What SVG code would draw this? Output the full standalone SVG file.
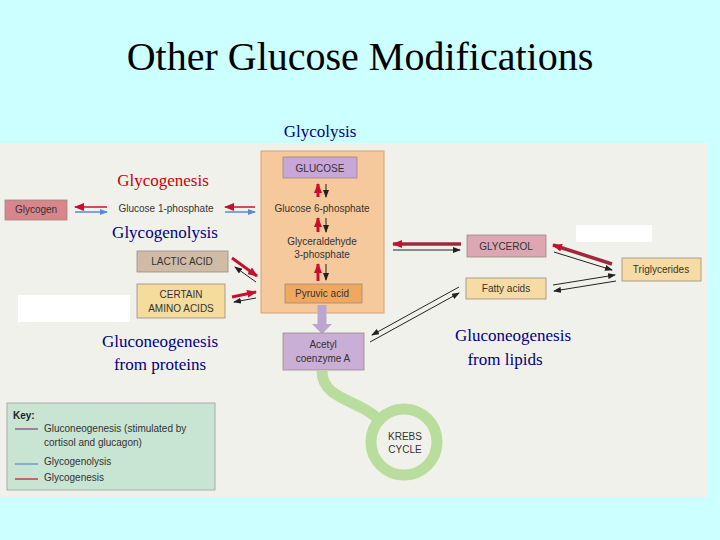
<svg xmlns="http://www.w3.org/2000/svg" width="720" height="540" viewBox="0 0 720 540">
<style>
.lbl{font-family:"Liberation Serif",serif;font-size:17px;text-anchor:middle}
.s{font-family:"Liberation Sans",sans-serif;font-size:10px;fill:#333;text-anchor:middle}
.bx{stroke:#9a8a80;stroke-width:0.8}
.thin{stroke:#222;stroke-width:1;fill:none}
.red{stroke:#c8102e;stroke-width:3;fill:none}
</style>
<defs>
<marker id="ah" markerWidth="8" markerHeight="6" refX="7" refY="3" orient="auto" markerUnits="userSpaceOnUse"><path d="M0,0 L8,3 L0,6 z" fill="#222"/></marker>
<marker id="rh" markerWidth="10" markerHeight="8" refX="9" refY="4" orient="auto" markerUnits="userSpaceOnUse"><path d="M0,0 L10,4 L0,8 z" fill="#c8102e"/></marker>
<marker id="bh" markerWidth="8" markerHeight="6" refX="7" refY="3" orient="auto" markerUnits="userSpaceOnUse"><path d="M0,0 L8,3 L0,6 z" fill="#5a8ad0"/></marker>
</defs>
<rect width="720" height="540" fill="#ccffff"/>
<rect x="0" y="143" width="708" height="354" fill="#f1f1ec"/>
<rect x="18" y="295" width="112" height="27" fill="#fff"/>
<rect x="576" y="225" width="76" height="17" fill="#fff"/>
<text x="360" y="70" font-family="Liberation Serif,serif" font-size="40" text-anchor="middle">Other Glucose Modifications</text>
<text class="lbl" x="320" y="137" fill="#000080">Glycolysis</text>
<g id="pathway"><rect x="261" y="151" width="123" height="162" fill="#f6c99c" stroke="#d8a070"/></g>
<g id="connectors">
<path d="M318,197 L318,184" class="red" marker-end="url(#rh)"/>
<path d="M318,232 L318,218" class="red" marker-end="url(#rh)"/>
<path d="M318,281 L318,264" class="red" marker-end="url(#rh)"/>
<path d="M326,184 L326,197" class="thin" marker-end="url(#ah)"/>
<path d="M326,218 L326,232" class="thin" marker-end="url(#ah)"/>
<path d="M326,264 L326,280" class="thin" marker-end="url(#ah)"/>
<path d="M107,207 L75,207" stroke="#c8102e" stroke-width="1.5" marker-end="url(#rh)"/>
<path d="M75,212 L107,212" stroke="#5a8ad0" stroke-width="1.5" marker-end="url(#bh)"/>
<path d="M255,207 L225,207" stroke="#c8102e" stroke-width="1.5" marker-end="url(#rh)"/>
<path d="M225,212 L255,212" stroke="#5a8ad0" stroke-width="1.5" marker-end="url(#bh)"/>
<path d="M232,258 L257,276" class="red" marker-end="url(#rh)"/>
<path d="M256,282 L235,267" class="thin" marker-end="url(#ah)"/>
<path d="M232,297 L256,292" class="red" marker-end="url(#rh)"/>
<path d="M256,298 L234,302" class="thin" marker-end="url(#ah)"/>
<path d="M461,244 L393,244" stroke="#a0283c" stroke-width="3.5" marker-end="url(#rh)"/>
<path d="M393,250 L460,250" class="thin" marker-end="url(#ah)"/>
<path d="M612,264 L553,245" stroke="#a0283c" stroke-width="3.5" marker-end="url(#rh)"/>
<path d="M554,252 L612,270" class="thin" marker-end="url(#ah)"/>
<path d="M553,285 L615,275" class="thin" marker-end="url(#ah)"/>
<path d="M616,281 L554,291" class="thin" marker-end="url(#ah)"/>
<path d="M459,287 L372,335" class="thin" marker-end="url(#ah)"/>
<path d="M370,342 L459,293" class="thin" marker-end="url(#ah)"/>
<path d="M322,305 L322,326" stroke="#bba6d0" stroke-width="9"/>
<path d="M312,324 L332,324 L322,334 z" fill="#bba6d0"/>
<path d="M322,371 C322,400 360,400 377,418" stroke="#b9dd9c" stroke-width="11" fill="none"/>
<circle cx="404" cy="442" r="33" fill="none" stroke="#b9dd9c" stroke-width="11"/>
</g>
<g id="glucose"><rect class="bx" x="283" y="157" width="74" height="21" fill="#c9a6d8"/><text class="s" x="320" y="172">GLUCOSE</text></g>
<g id="g6p"><text class="s" x="322" y="212">Glucose 6-phosphate</text></g>
<g id="ga3p"><text class="s" x="322" y="245">Glyceraldehyde</text><text class="s" x="322" y="258">3-phosphate</text></g>
<g id="pyruvic"><rect class="bx" x="285" y="284" width="77" height="19" fill="#f0a860"/><text class="s" x="322" y="297">Pyruvic acid</text></g>
<g id="acetyl"><rect class="bx" x="283" y="333" width="81" height="37" fill="#c9aed6"/><text class="s" x="323" y="348">Acetyl</text><text class="s" x="323" y="362">coenzyme A</text></g>
<g id="krebs"><text class="s" x="405" y="440">KREBS</text><text class="s" x="405" y="453">CYCLE</text></g>
<g id="glycogen"><rect class="bx" x="5" y="200" width="62" height="20" fill="#d8868c"/><text class="s" x="36" y="213">Glycogen</text></g>
<g id="g1p"><text class="s" x="166" y="212">Glucose 1-phosphate</text></g>
<g id="lactic"><rect class="bx" x="137" y="251" width="91" height="21" fill="#d0bca6"/><text class="s" x="182" y="265">LACTIC ACID</text></g>
<g id="amino"><rect class="bx" x="137" y="284" width="88" height="34" fill="#f5dc9c"/><text class="s" x="181" y="298">CERTAIN</text><text class="s" x="181" y="312">AMINO ACIDS</text></g>
<g id="glycerol"><rect class="bx" x="467" y="235" width="79" height="22" fill="#dca6b2"/><text class="s" x="506" y="250">GLYCEROL</text></g>
<g id="trig"><rect class="bx" x="622" y="258" width="79" height="23" fill="#f6dca4"/><text class="s" x="661" y="273">Triglycerides</text></g>
<g id="fatty"><rect class="bx" x="466" y="278" width="80" height="21" fill="#f6dca4"/><text class="s" x="506" y="292">Fatty acids</text></g>
<g id="key">
<rect x="7" y="403" width="208" height="87" fill="#c8e4d2" stroke="#aaa"/>
<text x="13" y="419" font-family="Liberation Sans,sans-serif" font-size="10" font-weight="bold" fill="#222">Key:</text>
<path d="M15,429 L38,429" stroke="#8a3a7a" stroke-width="1.2"/>
<path d="M15,464 L38,464" stroke="#5a8ad0" stroke-width="1.2"/>
<path d="M15,479 L38,479" stroke="#c8102e" stroke-width="1.2"/>
<g font-family="Liberation Sans,sans-serif" font-size="10" fill="#333">
<text x="44" y="432">Gluconeogenesis (stimulated by</text>
<text x="44" y="446">cortisol and glucagon)</text>
<text x="44" y="465">Glycogenolysis</text>
<text x="44" y="481">Glycogenesis</text></g>
</g>
<text class="lbl" x="163" y="186" fill="#cc0000">Glycogenesis</text>
<text class="lbl" x="165" y="238" fill="#000080">Glycogenolysis</text>
<text class="lbl" x="160" y="347" fill="#000080">Gluconeogenesis</text>
<text class="lbl" x="160" y="370" fill="#000080">from proteins</text>
<text class="lbl" x="513" y="341" fill="#000080">Gluconeogenesis</text>
<text class="lbl" x="505" y="365" fill="#000080">from lipids</text>
</svg>
